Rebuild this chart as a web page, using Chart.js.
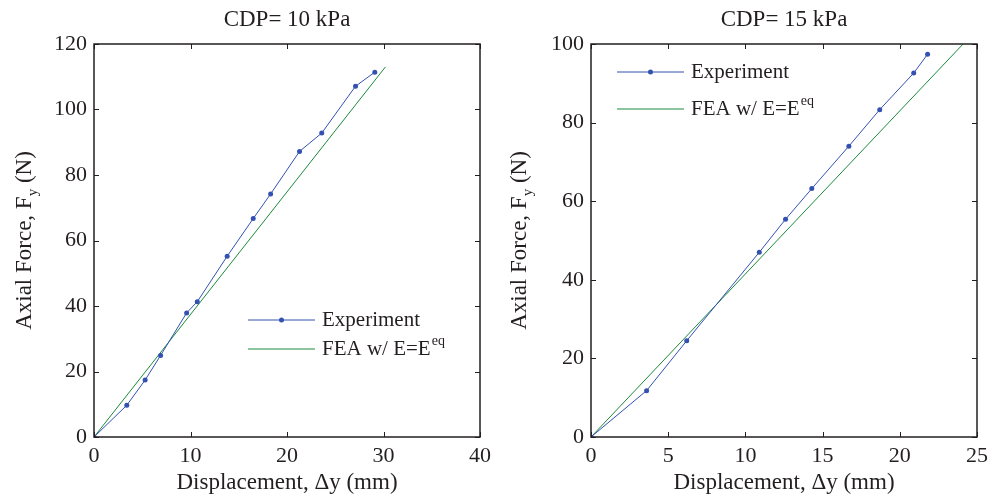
<!DOCTYPE html>
<html>
<head>
<meta charset="utf-8">
<script src="https://cdn.jsdelivr.net/npm/chart.js@4"></script>
<style>
  body { margin: 0; background: #fff; }
  canvas { position: absolute; top: 0; }
</style>
</head>
<body>
<canvas id="left" width="495" height="498" style="left:0"></canvas>
<canvas id="right" width="494" height="498" style="left:495px"></canvas>
<script>
// CDP = 10 kPa
const exp10X = [0, 3.4, 5.3, 6.9, 9.6, 10.7, 13.8, 16.5, 18.3, 21.3, 23.6, 27.1, 29.1];
const exp10Y = [0, 9.7, 17.4, 24.9, 37.9, 41.3, 55.2, 66.7, 74.2, 87.2, 92.8, 107.1, 111.4];
const fea10X = [0, 30.2];
const fea10Y = [0, 113.0];

// CDP = 15 kPa
const exp15X = [0, 3.6, 6.2, 10.9, 12.6, 14.3, 16.7, 18.7, 20.9, 21.8];
const exp15Y = [0, 11.8, 24.5, 47.0, 55.4, 63.2, 74.0, 83.3, 92.6, 97.4];
const fea15X = [0, 24.1];
const fea15Y = [0, 100];

const titles = ['CDP= 10 kPa', 'CDP= 15 kPa'];
const xLabel = 'Displacement, \u0394y (mm)';
const legendLabels = ['Experiment', 'FEA w/ E=E'];

const INK = '#231f20';
const BLUE = '#3451b2';
const GREEN = '#1b8a3c';
const FONT = 'Liberation Serif';

const pts = (xs, ys) => xs.map((x, i) => ({ x, y: ys[i] }));

// box, inward ticks, y title with subscript, legend with superscript
const decor = {
  id: 'decor',
  afterDraw(chart, args, o) {
    const { ctx, chartArea: a, scales: { x, y } } = chart;
    ctx.save();
    ctx.strokeStyle = INK;
    ctx.lineWidth = 1;
    ctx.beginPath();
    x.ticks.forEach(t => {
      const px = Math.round(x.getPixelForValue(t.value)) + 0.5;
      ctx.moveTo(px, a.bottom); ctx.lineTo(px, a.bottom - 5);
      ctx.moveTo(px, a.top); ctx.lineTo(px, a.top + 5);
    });
    y.ticks.forEach(t => {
      const py = Math.round(y.getPixelForValue(t.value)) + 0.5;
      ctx.moveTo(a.left, py); ctx.lineTo(a.left + 5, py);
      ctx.moveTo(a.right, py); ctx.lineTo(a.right - 5, py);
    });
    ctx.stroke();
    ctx.lineWidth = 1.5;
    ctx.strokeRect(a.left, a.top, a.right - a.left, a.bottom - a.top);

    // y axis title
    ctx.fillStyle = INK;
    ctx.textBaseline = 'alphabetic';
    ctx.textAlign = 'left';
    const big = `23px "${FONT}"`, small = `15px "${FONT}"`;
    ctx.font = big;
    const w1 = ctx.measureText('Axial Force, F').width;
    const w3 = ctx.measureText(' (N)').width;
    ctx.font = small;
    const w2 = ctx.measureText('y').width;
    const total = w1 + w2 + w3;
    ctx.translate(o.yTitleX, (a.top + a.bottom) / 2);
    ctx.rotate(-Math.PI / 2);
    let cx = -total / 2;
    ctx.font = big;
    ctx.fillText('Axial Force, F', cx, 0);
    cx += w1;
    ctx.font = small;
    ctx.fillText('y', cx, 6);
    cx += w2;
    ctx.font = big;
    ctx.fillText(' (N)', cx, 0);
    ctx.setTransform(1, 0, 0, 1, 0, 0);

    // legend
    const lx0 = o.legendX, lx1 = o.legendX + 67, tx = o.legendX + 74;
    ctx.lineWidth = 1;
    ctx.strokeStyle = BLUE;
    ctx.beginPath(); ctx.moveTo(lx0, o.legendY[0]); ctx.lineTo(lx1, o.legendY[0]); ctx.stroke();
    ctx.fillStyle = BLUE;
    ctx.beginPath(); ctx.arc((lx0 + lx1) / 2, o.legendY[0], 2.5, 0, Math.PI * 2); ctx.fill();
    ctx.strokeStyle = GREEN;
    ctx.beginPath(); ctx.moveTo(lx0, o.legendY[1]); ctx.lineTo(lx1, o.legendY[1]); ctx.stroke();
    ctx.fillStyle = INK;
    ctx.textBaseline = 'middle';
    ctx.font = `21px "${FONT}"`;
    ctx.fillText(legendLabels[0], tx, o.legendY[0]);
    ctx.fillText(legendLabels[1], tx, o.legendY[1]);
    const wl = ctx.measureText(legendLabels[1]).width;
    ctx.font = `14px "${FONT}"`;
    ctx.fillText('eq', tx + wl + 1, o.legendY[1] - 8);
    ctx.restore();
  }
};

function makeChart(id, cfg) {
  const tickFont = { family: FONT, size: 22 };
  return new Chart(document.getElementById(id), {
    type: 'scatter',
    data: {
      datasets: [
        {
          data: pts(cfg.expX, cfg.expY), showLine: true,
          borderColor: BLUE, backgroundColor: BLUE, borderWidth: 1,
          pointRadius: 2.5, pointBorderWidth: 0
        },
        {
          data: pts(cfg.feaX, cfg.feaY), showLine: true,
          borderColor: GREEN, borderWidth: 1, pointRadius: 0
        }
      ]
    },
    options: {
      responsive: false,
      animation: false,
      layout: { padding: { top: 0, left: 0, bottom: 0, right: cfg.padRight } },
      plugins: {
        legend: { display: false },
        tooltip: { enabled: false },
        title: {
          display: true, text: cfg.title, fullSize: false, color: INK,
          font: { family: FONT, size: 23, weight: 'normal', lineHeight: 1.2 },
          padding: { top: 6.5, bottom: 9.9 }
        },
        decor: { yTitleX: 31, legendX: cfg.legendX, legendY: cfg.legendY }
      },
      scales: {
        x: {
          type: 'linear', min: 0, max: cfg.xMax,
          ticks: { stepSize: cfg.xStep, color: INK, font: tickFont, padding: 6, maxRotation: 0, autoSkip: false },
          grid: { display: false, drawTicks: false },
          border: { display: false },
          title: { display: true, text: xLabel, color: INK, font: { family: FONT, size: 23 }, padding: { top: 0, bottom: 1 } },
          afterFit(s) { s.height = 61; s.paddingLeft = 0; s.paddingRight = 0; }
        },
        y: {
          type: 'linear', min: 0, max: cfg.yMax,
          ticks: { stepSize: 20, color: INK, font: tickFont, padding: 7 },
          grid: { display: false, drawTicks: false },
          border: { display: false },
          afterFit(s) { s.width = cfg.yWidth; s.paddingTop = 0; s.paddingBottom = 0; }
        }
      }
    },
    plugins: [decor]
  });
}

makeChart('left', {
  title: titles[0], expX: exp10X, expY: exp10Y, feaX: fea10X, feaY: fea10Y,
  xMax: 40, xStep: 10, yMax: 120, yWidth: 94, padRight: 15,
  legendX: 248, legendY: [320, 349]
});

makeChart('right', {
  title: titles[1], expX: exp15X, expY: exp15Y, feaX: fea15X, feaY: fea15Y,
  xMax: 25, xStep: 5, yMax: 100, yWidth: 96, padRight: 12,
  legendX: 122, legendY: [72, 109]
});
</script>
</body>
</html>
